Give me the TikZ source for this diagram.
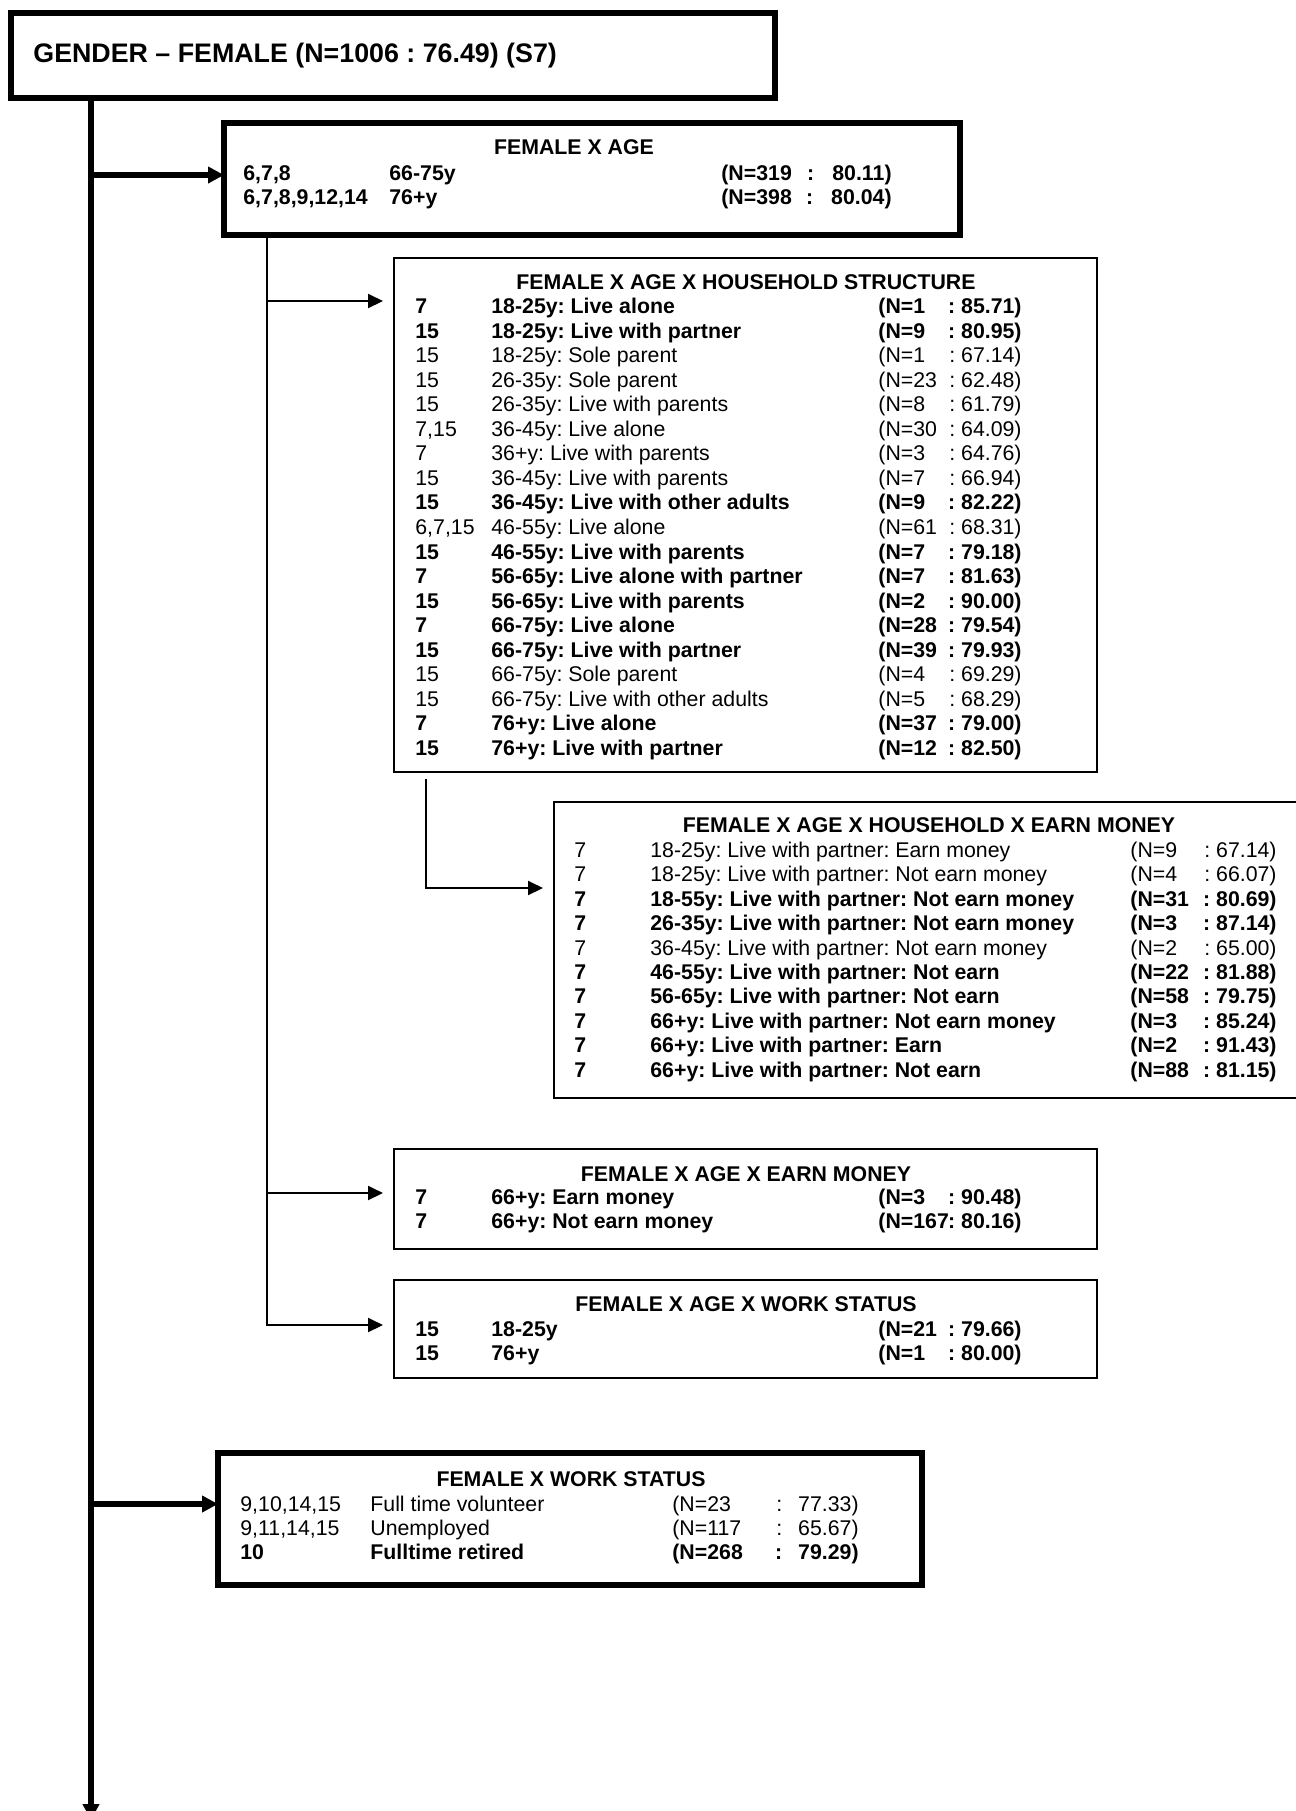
\documentclass[tikz,border=0pt]{standalone}
\usepackage{fontspec}
\setmainfont{Liberation Sans}
\usetikzlibrary{arrows.meta,fit}
\frenchspacing

\newcommand\rowrg{\fontsize{10.65pt}{12.8pt}\selectfont}
\newcommand\rowbf{\rowrg\bfseries}
\newcommand\headfont{\fontsize{13.4pt}{16pt}\selectfont\bfseries}

\tikzset{
  thickbox/.style={draw, line width=3pt, inner sep=0pt, outer sep=0pt},
  thinbox/.style={draw, line width=1pt, inner sep=0pt, outer sep=0pt},
  trunkline/.style={line width=3pt, -{Triangle[length=8pt,width=8pt]}},
  bigarrow/.style={line width=2.75pt, -{Triangle[length=8pt,width=8pt]}},
  smallarrow/.style={line width=1pt, -{Triangle[length=7.5pt,width=7pt]}},
  cell/.style={inner sep=0pt, anchor=base west},
  stat/.style={inner sep=0pt, anchor=base east},
  boxtitle/.style={inner sep=0pt, anchor=base, font=\rowbf},
}

\begin{document}
\begin{tikzpicture}[x=0.5pt, y=-0.5pt]
    \useasboundingbox (0,0) rectangle (1296,1811);
    \clip (0,0) rectangle (1296,1811);

    % boxes
    \node[thickbox, fit={(11,12.5) (774.5,97.5)}] (main) {};
    \node[thickbox, fit={(224,122.5) (960,234.5)}] (age) {};
    \node[thinbox, fit={(394,258) (1097,772)}] (hh) {};
    \node[thinbox, fit={(554,802) (1330,1098)}] (hhe) {};
    \node[thinbox, fit={(394,1149) (1097,1249)}] (earn) {};
    \node[thinbox, fit={(394,1280) (1097,1378)}] (work) {};
    \node[thickbox, fit={(218,1453) (922,1585)}] (fws) {};

    \node[cell, font=\headfont] (maintitle) at (33,62) {GENDER – FEMALE (N=1006 : 76.49) (S7)};

    % connectors
    \coordinate (trunkend) at (91,1820);
    \coordinate (agejoint) at (91,175);
    \coordinate (fwsjoint) at (91,1504);
    \draw[trunkline] (main.south -| trunkend) -- (trunkend);
    \draw[bigarrow] (agejoint) -- (agejoint -| age.west);
    \draw[bigarrow] (fwsjoint) -- (fwsjoint -| fws.west);

    \coordinate (hhjoint) at (267,301);
    \coordinate (earnjoint) at (267,1193);
    \coordinate (workjoint) at (267,1325);
    \draw[smallarrow] (age.south -| workjoint) -- (workjoint) -- ([xshift=-5.5pt]workjoint -| work.west);
    \draw[smallarrow] (hhjoint) -- ([xshift=-5.5pt]hhjoint -| hh.west);
    \draw[smallarrow] (earnjoint) -- ([xshift=-5.5pt]earnjoint -| earn.west);

    \coordinate (hhstem) at (426,779);
    \coordinate (hhebend) at (426,888);
    \draw[smallarrow] (hhstem) -- (hhebend) -- ([xshift=-5.5pt]hhebend -| hhe.west);

    % female x age
    \node[boxtitle] (age-title) at (574,154.5) {FEMALE X AGE};
    \foreach \i/\f/\c/\t/\n/\v in {1/\rowbf/{6,7,8}/66-75y/(N=319/:\hspace{0.85em}80.11),
        2/\rowbf/{6,7,8,9,12,14}/76+y/(N=398/:\hspace{0.85em}80.04{\rowrg)}}{
        \node[cell, font=\f] (age-code-\i) at (243,{180.5+24*(\i-1)}) {\c};
        \node[cell, font=\f] (age-text-\i) at (389,{180.5+24*(\i-1)}) {\t};
        \node[cell, font=\f] (age-n-\i) at (721,{180.5+24*(\i-1)}) {\n};
        \node[stat, font=\f] (age-v-\i) at (892,{180.5+24*(\i-1)}) {\v};
    }

    % female x age x household structure
    \node[boxtitle] (hh-title) at (746,289.5) {FEMALE X AGE X HOUSEHOLD STRUCTURE};
    \foreach \i/\f/\c/\t/\n/\v in {1/\rowbf/7/18-25y: Live alone/(N=1/: 85.71),
        2/\rowbf/15/18-25y: Live with partner/(N=9/: 80.95),
        3/\rowrg/15/18-25y: Sole parent/(N=1/: 67.14),
        4/\rowrg/15/26-35y: Sole parent/(N=23/: 62.48),
        5/\rowrg/15/26-35y: Live with parents/(N=8/: 61.79),
        6/\rowrg/{7,15}/36-45y: Live alone/(N=30/: 64.09),
        7/\rowrg/7/36+y: Live with parents/(N=3/: 64.76),
        8/\rowrg/15/36-45y: Live with parents/(N=7/: 66.94),
        9/\rowbf/15/36-45y: Live with other adults/(N=9/: 82.22),
        10/\rowrg/{6,7,15}/46-55y: Live alone/(N=61/: 68.31),
        11/\rowbf/15/46-55y: Live with parents/(N=7/: 79.18),
        12/\rowbf/7/56-65y: Live alone with partner/(N=7/: 81.63),
        13/\rowbf/15/56-65y: Live with parents/(N=2/: 90.00),
        14/\rowbf/7/66-75y: Live alone/(N=28/: 79.54),
        15/\rowbf/15/66-75y: Live with partner/(N=39/: 79.93),
        16/\rowrg/15/66-75y: Sole parent/(N=4/: 69.29),
        17/\rowrg/15/66-75y: Live with other adults/(N=5/: 68.29),
        18/\rowbf/7/76+y: Live alone/(N=37/: 79.00),
        19/\rowbf/15/76+y: Live with partner/(N=12/: 82.50)}{
        \node[cell, font=\f] (hh-code-\i) at (415,{313.5+24.55*(\i-1)}) {\c};
        \node[cell, font=\f] (hh-text-\i) at (491,{313.5+24.55*(\i-1)}) {\t};
        \node[cell, font=\f] (hh-n-\i) at (878,{313.5+24.55*(\i-1)}) {\n};
        \node[stat, font=\f] (hh-v-\i) at (1022,{313.5+24.55*(\i-1)}) {\v};
    }

    % female x age x household x earn money
    \node[boxtitle] (hhe-title) at (929,832) {FEMALE X AGE X HOUSEHOLD X EARN MONEY};
    \foreach \i/\f/\c/\t/\n/\v in {1/\rowrg/7/18-25y: Live with partner: Earn money/(N=9/: 67.14),
        2/\rowrg/7/18-25y: Live with partner: Not earn money/(N=4/: 66.07),
        3/\rowbf/7/18-55y: Live with partner{\rowrg:} Not earn money/(N=31/: 80.69),
        4/\rowbf/7/26-35y: Live with partner{\rowrg:} Not earn money/(N=3/: 87.14),
        5/\rowrg/7/36-45y: Live with partner: Not earn money/(N=2/: 65.00),
        6/\rowbf/7/46-55y: Live with partner{\rowrg:} Not earn/(N=22/: 81.88),
        7/\rowbf/7/56-65y: Live with partner: Not earn/(N=58/: 79.75),
        8/\rowbf/7/66+y: Live with partner: Not earn money/(N=3/: 85.24),
        9/\rowbf/7/66+y: Live with partner: Earn/(N=2/: 91.43),
        10/\rowbf/7/66+y: Live with partner: Not earn/(N=88/: 81.15)}{
        \node[cell, font=\f] (hhe-code-\i) at (574,{857.5+24.4*(\i-1)}) {\c};
        \node[cell, font=\f] (hhe-text-\i) at (650,{857.5+24.4*(\i-1)}) {\t};
        \node[cell, font=\f] (hhe-n-\i) at (1130,{857.5+24.4*(\i-1)}) {\n};
        \node[stat, font=\f] (hhe-v-\i) at (1277,{857.5+24.4*(\i-1)}) {\v};
    }

    % female x age x earn money
    \node[boxtitle] (earn-title) at (746,1181.5) {FEMALE X AGE X EARN MONEY};
    \foreach \i/\f/\c/\t/\n/\v in {1/\rowbf/7/66+y: Earn money/(N=3/: 90.48),
        2/\rowbf/7/66+y: Not earn money/(N=167/: 80.16)}{
        \node[cell, font=\f] (earn-code-\i) at (415,{1204.5+24*(\i-1)}) {\c};
        \node[cell, font=\f] (earn-text-\i) at (491,{1204.5+24*(\i-1)}) {\t};
        \node[cell, font=\f] (earn-n-\i) at (878,{1204.5+24*(\i-1)}) {\n};
        \node[stat, font=\f] (earn-v-\i) at (1022,{1204.5+24*(\i-1)}) {\v};
    }

    % female x age x work status
    \node[boxtitle] (work-title) at (746,1311.5) {FEMALE X AGE X WORK STATUS};
    \foreach \i/\f/\c/\t/\n/\v in {1/\rowbf/15/18-25y/(N=21/: 79.66),
        2/\rowbf/15/76+y/(N=1/: 80.00)}{
        \node[cell, font=\f] (work-code-\i) at (415,{1336.5+24*(\i-1)}) {\c};
        \node[cell, font=\f] (work-text-\i) at (491,{1336.5+24*(\i-1)}) {\t};
        \node[cell, font=\f] (work-n-\i) at (878,{1336.5+24*(\i-1)}) {\n};
        \node[stat, font=\f] (work-v-\i) at (1022,{1336.5+24*(\i-1)}) {\v};
    }

    % female x work status
    \node[boxtitle] (fws-title) at (571,1486.5) {FEMALE X WORK STATUS};
    \foreach \i/\f/\c/\t/\n/\v in {1/\rowrg/{9,10,14,15}/Full time volunteer/(N=23/:\hspace{0.75em}77.33),
        2/\rowrg/{9,11,14,15}/Unemployed/(N=117/:\hspace{0.75em}65.67),
        3/\rowbf/10/Fulltime retired/(N=268/:\hspace{0.75em}79.29)}{
        \node[cell, font=\f] (fws-code-\i) at (240,{1511.5+24*(\i-1)}) {\c};
        \node[cell, font=\f] (fws-text-\i) at (370,{1511.5+24*(\i-1)}) {\t};
        \node[cell, font=\f] (fws-n-\i) at (672,{1511.5+24*(\i-1)}) {\n};
        \node[stat, font=\f] (fws-v-\i) at (859,{1511.5+24*(\i-1)}) {\v};
    }
\end{tikzpicture}
\end{document}
